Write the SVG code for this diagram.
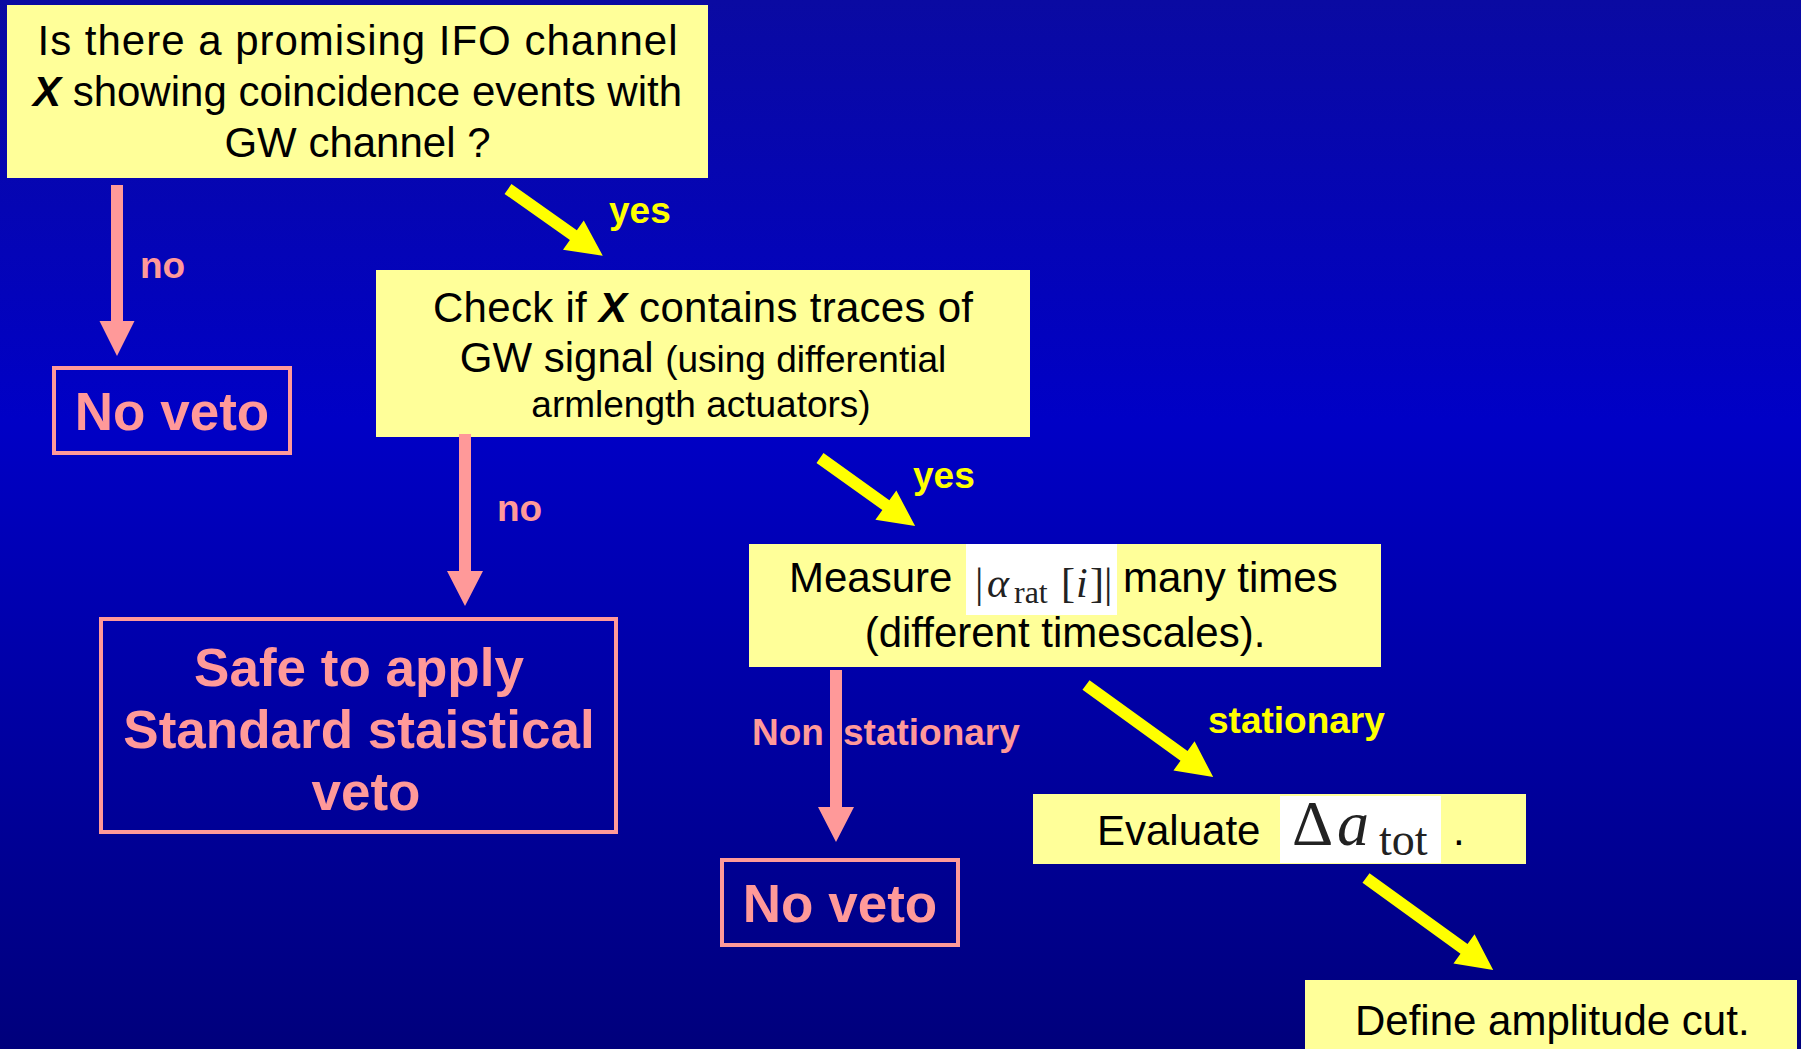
<svg xmlns="http://www.w3.org/2000/svg" width="1801" height="1049" viewBox="0 0 1801 1049">
<defs>
<linearGradient id="bg" x1="0" y1="0" x2="0" y2="1">
<stop offset="0" stop-color="#0a0aa2"/>
<stop offset="0.4" stop-color="#0000c6"/>
<stop offset="1" stop-color="#00007c"/>
</linearGradient>
<style>
.box{fill:#ffff99}
.pbox{fill:none;stroke:#ff9999;stroke-width:4}
.t{font-family:"Liberation Sans",Arial,sans-serif;font-size:42px;fill:#000}
.s{font-size:37px}
.bi{font-weight:bold;font-style:italic}
.pt{font-family:"Liberation Sans",Arial,sans-serif;font-weight:bold;font-size:53px;fill:#ff9999}
.yl{font-family:"Liberation Sans",Arial,sans-serif;font-weight:bold;font-size:37px;fill:#ffff00}
.pl{font-family:"Liberation Sans",Arial,sans-serif;font-weight:bold;font-size:37px;fill:#ff9999}
.m{font-family:"Liberation Serif","DejaVu Serif",serif;fill:#222}
.ya{fill:#ffff00}
.pa{fill:#ff9999}
</style>
</defs>
<rect x="0" y="0" width="1801" height="1049" fill="url(#bg)"/>

<g id="q1">
<rect class="box" x="7" y="5" width="701" height="173"/>
<text class="t" x="357.5" y="55" text-anchor="middle" textLength="640" lengthAdjust="spacing">Is there a promising IFO channel</text>
<text class="t" x="357.5" y="106" text-anchor="middle"><tspan class="bi">X</tspan> showing coincidence events with</text>
<text class="t" x="357.5" y="157" text-anchor="middle">GW channel ?</text>
</g>

<g id="noveto1">
<rect class="pbox" x="54" y="368" width="236" height="85"/>
<text class="pt" x="172" y="430" text-anchor="middle">No veto</text>
</g>

<g id="q2">
<rect class="box" x="376" y="270" width="654" height="167"/>
<text class="t" x="703" y="322" text-anchor="middle" textLength="540" lengthAdjust="spacing">Check if <tspan class="bi">X</tspan> contains traces of</text>
<text class="t" x="703" y="372" text-anchor="middle">GW signal <tspan class="s">(using differential</tspan></text>
<text class="t s" x="701" y="417" text-anchor="middle">armlength actuators)</text>
</g>

<g id="safe">
<rect class="pbox" x="101" y="619" width="515" height="213"/>
<text class="pt" x="359" y="686" text-anchor="middle">Safe to apply</text>
<text class="pt" x="359" y="748" text-anchor="middle">Standard staistical</text>
<text class="pt" x="366" y="810" text-anchor="middle">veto</text>
</g>

<g id="measure">
<rect class="box" x="749" y="544" width="632" height="123"/>
<rect x="966" y="544" width="151" height="71" fill="#ffffff"/>
<text class="t" x="789" y="592">Measure</text>
<text class="m" y="597" font-size="42"><tspan x="975">|</tspan><tspan x="987" font-style="italic">α</tspan><tspan x="1014" y="603" font-size="32">rat</tspan><tspan x="1061" y="597">[</tspan><tspan x="1076" font-style="italic">i</tspan><tspan x="1090">]</tspan><tspan x="1104">|</tspan></text>
<text class="t" x="1123" y="592">many times</text>
<text class="t" x="1065" y="647" text-anchor="middle">(different timescales).</text>
</g>

<g id="noveto2">
<rect class="pbox" x="722" y="860" width="236" height="85"/>
<text class="pt" x="840" y="922" text-anchor="middle">No veto</text>
</g>

<g id="evaluate">
<rect class="box" x="1033" y="794" width="493" height="70"/>
<rect x="1280" y="796" width="161" height="67" fill="#ffffff"/>
<text class="t" x="1097" y="845">Evaluate</text>
<text class="m" y="845" font-size="64"><tspan x="1292">Δ</tspan><tspan x="1337" font-style="italic">a</tspan><tspan x="1379" y="855" font-size="46">tot</tspan></text>
<text class="t" x="1453" y="845">.</text>
</g>

<g id="define">
<rect class="box" x="1305" y="980" width="492" height="69"/>
<text class="t" x="1355" y="1035">Define amplitude cut.</text>
</g>

<g id="labels">
<text class="pl" x="140" y="278" font-size="40">no</text>
<text class="yl" x="609" y="223">yes</text>
<text class="pl" x="497" y="521" font-size="40">no</text>
<text class="yl" x="913" y="488">yes</text>
<text class="pl" x="752" y="745">Non</text>
<text class="pl" x="843" y="745">stationary</text>
<text class="yl" x="1208" y="733">stationary</text>
</g>

<g id="connectors">
<path class="pa" d="M111,185 H123 V321 H134.5 L117,356 L99.5,321 H111 Z"/>
<path class="pa" d="M459,434 H471 V571 H483 L465,606 L447,571 H459 Z"/>
<path class="pa" d="M830,670 H842 V807 H854 L836,842 L818,807 H830 Z"/>
<path class="ya" transform="translate(508,189) rotate(35.2)" d="M0,-6 H80 V-18 L116,0 L80,18 V6 H0 Z"/>
<path class="ya" transform="translate(820,458) rotate(35.6)" d="M0,-6 H81 V-18 L117,0 L81,18 V6 H0 Z"/>
<path class="ya" transform="translate(1086,685) rotate(35.9)" d="M0,-6 H121 V-18 L157,0 L121,18 V6 H0 Z"/>
<path class="ya" transform="translate(1366,878) rotate(35.9)" d="M0,-6 H121 V-18 L157,0 L121,18 V6 H0 Z"/>
</g>
</svg>
